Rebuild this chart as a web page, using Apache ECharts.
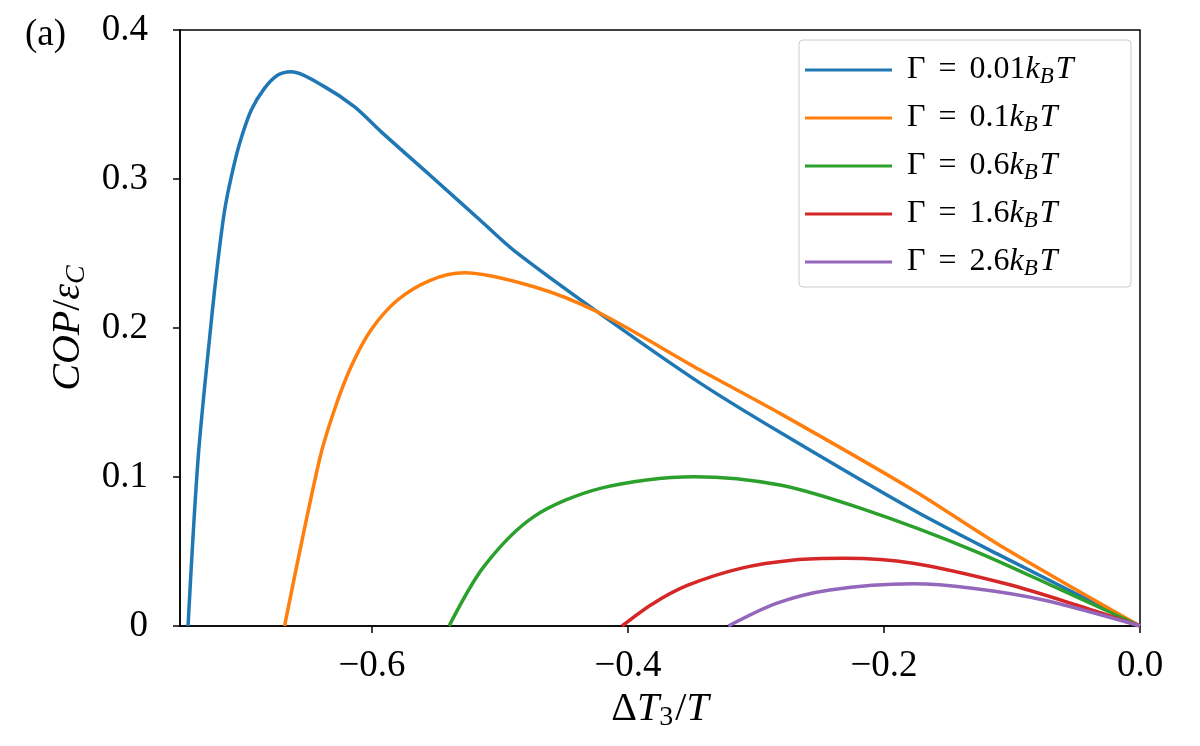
<!DOCTYPE html>
<html>
<head>
<meta charset="utf-8">
<script src="https://cdn.jsdelivr.net/npm/echarts@6/dist/echarts.min.js"></script>
<style>
html, body { margin: 0; padding: 0; background: #fff; }
#main { width: 1200px; height: 746px; }
</style>
</head>
<body>
<div id="main"></div>
<script>
// Γ = 0.01 kBT
var x1 = [-0.7437, -0.7358, -0.7255, -0.7203, -0.7151, -0.7099, -0.7034, -0.6943, -0.6839, -0.6735, -0.6631, -0.6372, -0.6138, -0.593, -0.554, -0.515, -0.489, -0.4241, -0.3436, -0.2813, -0.1774, -0.11, 0];
var y1 = [0, 0.113, 0.205, 0.2456, 0.2792, 0.3016, 0.324, 0.3463, 0.361, 0.3698, 0.372, 0.362, 0.3485, 0.3318, 0.302, 0.272, 0.252, 0.211, 0.163, 0.130, 0.078, 0.0477, 0];
// Γ = 0.1 kBT
var x2 = [-0.6683, -0.6411, -0.6294, -0.6164, -0.6008, -0.580, -0.554, -0.528, -0.4735, -0.4241, -0.3436, -0.2813, -0.1774, -0.11, 0];
var y2 = [0, 0.1114, 0.145, 0.174, 0.1987, 0.2188, 0.2322, 0.2371, 0.2277, 0.2109, 0.1718, 0.1427, 0.0913, 0.0544, 0];
// Γ = 0.6 kBT
var x3 = [-0.5398, -0.5125, -0.4735, -0.4216, -0.3489, -0.2813, -0.2145, -0.131, -0.0615, 0];
var y3 = [0, 0.040, 0.0734, 0.0924, 0.1002, 0.0946, 0.0779, 0.051, 0.0242, 0];
// Γ = 1.6 kBT
var x4 = [-0.4047, -0.3815, -0.3537, -0.312, -0.2702, -0.2312, -0.1774, -0.1032, -0.0475, 0];
var y4 = [0, 0.0145, 0.0272, 0.0387, 0.0443, 0.0454, 0.0421, 0.028, 0.0135, 0];
// Γ = 2.6 kBT
var x5 = [-0.3216, -0.2841, -0.2423, -0.1774, -0.131, -0.0754, 0];
var y5 = [0, 0.0152, 0.0242, 0.0283, 0.0253, 0.0174, 0];

var gammas = ['0.01', '0.1', '0.6', '1.6', '2.6'];
var colors = ['#1f77b4', '#ff7f0e', '#2ca02c', '#d62728', '#9467bd'];
var xTicks = [-0.6, -0.4, -0.2, 0];

function pairs(xs, ys) {
    var out = [];
    for (var i = 0; i < xs.length; i++) out.push([xs[i], ys[i]]);
    return out;
}

var xsAll = [x1, x2, x3, x4, x5];
var ysAll = [y1, y2, y3, y4, y5];
var names = gammas.map(function (g) { return 'Γ = ' + g + 'kBT'; });

var series = [];
for (var k = 0; k < 5; k++) {
    series.push({
        name: names[k],
        type: 'line',
        data: pairs(xsAll[k], ysAll[k]),
        showSymbol: false,
        smooth: 0.3,
        lineStyle: { color: colors[k], width: 3.5 },
        itemStyle: { color: colors[k] }
    });
}

var serif = 'Liberation Serif';
var myChart = echarts.init(document.getElementById('main'));
var option = {
    animation: false,
    backgroundColor: '#fff',
    grid: {
        left: 180, right: 60, top: 30, bottom: 120,
        show: true, borderColor: '#000', borderWidth: 1.5,
        outerBoundsMode: 'none'
    },
    graphic: [{
        type: 'text', left: 25, top: 17,
        style: { text: '(a)', font: '37px ' + serif, fill: '#000' }
    }],
    legend: {
        orient: 'vertical',
        left: 799, top: 40,
        padding: [13, 4, 7, 6],
        itemGap: 13,
        itemWidth: 87, itemHeight: 3,
        icon: 'rect',
        backgroundColor: '#fff',
        borderColor: '#cccccc', borderWidth: 1, borderRadius: 4,
        data: names,
        formatter: function (name) {
            var g = gammas[names.indexOf(name)];
            return '{r|Γ}{e|=}{r|' + g + '}{i|k}{s|B}{i|T}';
        },
        textStyle: {
            fontFamily: serif, fontSize: 32, color: '#000', lineHeight: 34,
            width: 220,
            padding: [0, 0, 0, 10],
            rich: {
                r: { fontFamily: serif, fontSize: 32, color: '#000' },
                e: { fontFamily: serif, fontSize: 32, color: '#000', padding: [0, 13, 0, 13] },
                i: { fontFamily: serif, fontSize: 32, fontStyle: 'italic', color: '#000' },
                s: { fontFamily: serif, fontSize: 23, fontStyle: 'italic', color: '#000', padding: [13, 2, 0, 0] }
            }
        }
    },
    xAxis: {
        type: 'value',
        min: -0.75, max: 0,
        name: '{n|Δ}{i|T}{s|3}{n|/}{i|T}',
        nameLocation: 'middle',
        nameGap: 48,
        nameTextStyle: {
            rich: {
                n: { fontFamily: serif, fontSize: 40, color: '#000' },
                i: { fontFamily: serif, fontSize: 40, fontStyle: 'italic', color: '#000' },
                s: { fontFamily: serif, fontSize: 28, color: '#000', padding: [16, 2, 0, 0] }
            }
        },
        axisLine: { show: true, onZero: false, lineStyle: { color: '#000', width: 1.5 } },
        axisTick: { show: true, length: 7, customValues: xTicks, lineStyle: { color: '#000', width: 1.5 } },
        axisLabel: {
            customValues: xTicks,
            margin: 22,
            fontFamily: serif, fontSize: 37, color: '#000',
            formatter: function (v) {
                if (v === 0) return '0.0';
                return '\u2212' + Math.abs(v).toFixed(1);
            }
        },
        splitLine: { show: false }
    },
    yAxis: {
        type: 'value',
        min: 0, max: 0.4, interval: 0.1,
        name: '{i|COP}{n|/}{i|ε}{s|C}',
        nameLocation: 'middle',
        nameGap: 78,
        nameTextStyle: {
            rich: {
                n: { fontFamily: serif, fontSize: 40, color: '#000' },
                i: { fontFamily: serif, fontSize: 40, fontStyle: 'italic', color: '#000' },
                s: { fontFamily: serif, fontSize: 28, fontStyle: 'italic', color: '#000', padding: [16, 0, 0, 0] }
            }
        },
        axisLine: { show: true, onZero: false, lineStyle: { color: '#000', width: 1.5 } },
        axisTick: { show: true, length: 7, lineStyle: { color: '#000', width: 1.5 } },
        axisLabel: {
            margin: 32,
            fontFamily: serif, fontSize: 37, color: '#000',
            formatter: function (v) { return v === 0 ? '0' : v.toFixed(1); }
        },
        splitLine: { show: false }
    },
    series: series
};
myChart.setOption(option);
</script>
</body>
</html>
